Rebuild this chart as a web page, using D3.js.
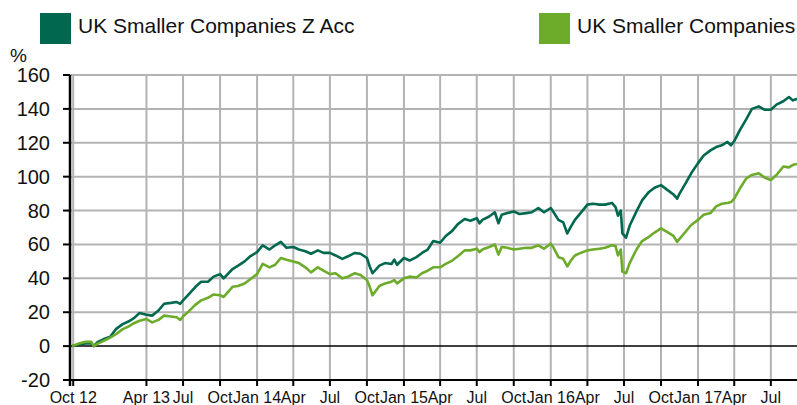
<!DOCTYPE html>
<html>
<head>
<meta charset="utf-8">
<script src="https://cdn.jsdelivr.net/npm/d3@7"></script>
<style>
  body { margin: 0; background: #fff; }
  svg { display: block; font-family: "Liberation Sans", Arial, sans-serif; }
</style>
</head>
<body>
<div id="chart"></div>
<script>
// series names
var seriesNames = ["UK Smaller Companies Z Acc", "UK Smaller Companies"];

var dates = [
  "2012-09-28","2012-10-15","2012-11-01","2012-11-15","2012-11-21","2012-12-01","2012-12-15",
  "2013-01-01","2013-01-15","2013-02-01","2013-02-15","2013-03-01","2013-03-15","2013-04-01",
  "2013-04-15","2013-05-01","2013-05-15","2013-06-01","2013-06-15","2013-06-24","2013-07-01",
  "2013-07-15","2013-08-01","2013-08-15","2013-09-01","2013-09-15","2013-10-01","2013-10-10",
  "2013-11-01","2013-11-15","2013-12-01","2013-12-15","2014-01-01","2014-01-15","2014-02-01",
  "2014-02-15","2014-03-01","2014-03-15","2014-04-01","2014-04-15","2014-05-01","2014-05-15",
  "2014-06-01","2014-06-15","2014-07-01","2014-07-15","2014-08-01","2014-08-15","2014-09-01",
  "2014-09-15","2014-10-01","2014-10-08","2014-10-15","2014-11-01","2014-11-15","2014-12-01",
  "2014-12-08","2014-12-15","2015-01-01","2015-01-15","2015-02-01","2015-02-15","2015-03-01",
  "2015-03-15","2015-04-01","2015-04-15","2015-05-01","2015-05-15","2015-06-01","2015-06-15",
  "2015-07-01","2015-07-08","2015-07-15","2015-08-01","2015-08-15","2015-08-24","2015-09-01",
  "2015-09-15","2015-10-01","2015-10-15","2015-11-01","2015-11-15","2015-12-01","2015-12-15",
  "2016-01-01","2016-01-08","2016-01-20","2016-02-01","2016-02-11","2016-02-20","2016-03-01",
  "2016-03-15","2016-04-01","2016-04-15","2016-05-01","2016-05-15","2016-06-01","2016-06-10",
  "2016-06-16","2016-06-23","2016-06-27","2016-07-06","2016-07-15","2016-08-01","2016-08-15",
  "2016-09-01","2016-09-15","2016-10-01","2016-10-15","2016-11-01","2016-11-10","2016-11-15",
  "2016-12-01","2016-12-15","2017-01-01","2017-01-15","2017-02-01","2017-02-15","2017-03-01",
  "2017-03-15","2017-03-24","2017-04-01","2017-04-15","2017-05-01","2017-05-15","2017-06-01",
  "2017-06-15","2017-07-01","2017-07-15","2017-08-01","2017-08-15","2017-08-25","2017-09-04"
];

// cumulative % growth, fund (dark green)
var fundZAcc = [
  0, 1, 1.5, 1.5, 0, 2.5, 4,
  5.5, 10, 13, 14.5, 16.5, 19.5, 18.5,
  18, 21, 25, 25.5, 26, 25, 27,
  30.5, 35, 38, 38, 41, 42.5, 40,
  45.5, 47.5, 50, 53, 55.5, 59.5, 57,
  59.5, 61.5, 58, 58.5, 57, 56, 54.5,
  56.5, 55, 55, 53.5, 51.5, 53, 55,
  54.5, 52, 47, 43, 47.5, 49, 48.5,
  51, 48, 52, 50.5, 52.5, 55, 57,
  62, 61, 65, 68, 72, 75, 74,
  75.5, 72.5, 74.5, 76.5, 79, 72.5, 77.5,
  78.5, 79.5, 78, 78.5, 79, 81.5, 79,
  81.5, 79, 74.5, 73, 66.5, 70.5, 74.5,
  78.5, 83.5, 84, 83.5, 83.5, 84.5, 82,
  77, 80, 66.5, 64, 71, 79.5, 86,
  91, 93.5, 95, 92.5, 89.5, 87, 89.5,
  96, 102, 108, 112.5, 115.5, 117.5, 118.5,
  120.5, 118.5, 121, 127.5, 134, 140, 141.5,
  139.5, 139.5, 142.5, 144.5, 147, 145, 146
];

// cumulative % growth, sector (light green)
var sector = [
  0, 1.5, 2.5, 2.5, 0, 1.5, 3,
  5, 7, 10, 11.5, 13.5, 15, 16,
  14, 15.5, 18, 17.5, 17, 15.5, 17.5,
  20.5, 24.5, 27, 28.5, 30.5, 30, 29,
  35, 35.5, 37, 39.5, 42.5, 48.5, 46.5,
  48, 52, 51, 50, 49, 46.5, 43.5,
  46.5, 44.5, 42.5, 43, 40, 41, 43,
  42, 39, 35, 30, 35.5, 37, 38,
  39, 37, 40, 41, 40.5, 43, 44.5,
  46.5, 46.5, 48.5, 50.5, 53, 56.5, 56.5,
  57.5, 55.5, 57, 58.5, 60, 54, 58.5,
  58, 57, 57.5, 58, 58, 59.5, 57.5,
  60.5, 58, 52.5, 51.5, 47, 50.5, 53.5,
  55, 56.5, 57, 57.5, 58, 59.5, 59,
  53.5, 57, 44, 43, 49, 57, 62,
  64.5, 67, 69.5, 67.5, 65, 61.5, 63,
  67.5, 71.5, 74.5, 77.5, 78.5, 82.5, 84,
  84.5, 85, 87, 93, 99, 101, 102,
  99.5, 98, 101, 106, 105.5, 107, 107.5
];

// x-axis ticks and their labels
var tickDates = [
  "2012-10-01","2013-04-01","2013-07-01","2013-10-01","2014-01-01","2014-04-01","2014-07-01",
  "2014-10-01","2015-01-01","2015-04-01","2015-07-01","2015-10-01","2016-01-01","2016-04-01",
  "2016-07-01","2016-10-01","2017-01-01","2017-04-01","2017-07-01"
];
var tickLabels = [
  "Oct 12","Apr 13","Jul","Oct","Jan 14","Apr","Jul",
  "Oct","Jan 15","Apr","Jul","Oct","Jan 16","Apr",
  "Jul","Oct","Jan 17","Apr","Jul"
];
var yTicks = [-20, 0, 20, 40, 60, 80, 100, 120, 140, 160];

var colors = ["#00684F", "#6DAB2A"];

function drawChart() {
  var W = 797, H = 405;
  var plotL = 70, plotR = 797, plotT = 75, plotB = 380;
  var parse = d3.timeParse("%Y-%m-%d");

  var x = d3.scaleTime()
      .domain([parse("2012-09-23"), parse("2017-09-04")])
      .range([plotL, plotR]);
  var y = d3.scaleLinear().domain([-20, 160]).range([plotB, plotT]);

  var svg = d3.select("#chart").append("svg")
      .attr("width", W)
      .attr("height", H);

  /* legend */
  seriesNames.forEach(function(name, i) {
    var lx = i == 0 ? 40 : 539;
    svg.append("rect")
      .attr("x", lx).attr("y", 13)
      .attr("width", 31).attr("height", 31)
      .attr("fill", colors[i]);
    svg.append("text")
      .attr("x", lx + 38).attr("y", 32.5)
      .style("font-size", "21px")
      .attr("fill", "#111")
      .text(name);
  });

  svg.append("text")
    .attr("x", 10).attr("y", 62)
    .style("font-size", "19px")
    .attr("fill", "#111")
    .text("%");

  /* grid */
  svg.selectAll(".vgrid")
    .data(tickDates)
    .enter().append("line")
    .attr("class", "vgrid")
    .attr("x1", function(d) { return x(parse(d)); })
    .attr("x2", function(d) { return x(parse(d)); })
    .attr("y1", plotT).attr("y2", plotB)
    .style("stroke", "#b3b3b3")
    .style("stroke-width", 2);

  svg.selectAll(".hgrid")
    .data(yTicks.filter(function(v) { return v > 0; }))
    .enter().append("line")
    .attr("class", "hgrid")
    .attr("x1", plotL).attr("x2", plotR)
    .attr("y1", y).attr("y2", y)
    .style("stroke", "#b3b3b3")
    .style("stroke-width", 2);

  /* zero line and bottom axis */
  [0, -20].forEach(function(v) {
    svg.append("line")
      .attr("x1", plotL).attr("x2", plotR)
      .attr("y1", y(v)).attr("y2", y(v))
      .style("stroke", "#000")
      .style("stroke-width", v == 0 ? 1.5 : 2);
  });

  /* x ticks */
  svg.selectAll(".xtick")
    .data(tickDates)
    .enter().append("line")
    .attr("class", "xtick")
    .attr("x1", function(d) { return x(parse(d)); })
    .attr("x2", function(d) { return x(parse(d)); })
    .attr("y1", plotB).attr("y2", plotB + 6)
    .style("stroke", "#000")
    .style("stroke-width", 2);

  svg.selectAll(".xlabel")
    .data(tickDates)
    .enter().append("text")
    .attr("class", "xlabel")
    .attr("x", function(d) { return x(parse(d)); })
    .attr("y", 403)
    .attr("text-anchor", "middle")
    .style("font-size", "16px")
    .attr("fill", "#111")
    .text(function(d, i) { return tickLabels[i]; });

  /* y axis */
  svg.append("line")
    .attr("x1", plotL).attr("x2", plotL)
    .attr("y1", plotT).attr("y2", plotB + 6)
    .style("stroke", "#000")
    .style("stroke-width", 2.5);

  svg.selectAll(".ytick")
    .data(yTicks)
    .enter().append("line")
    .attr("class", "ytick")
    .attr("x1", plotL - 7).attr("x2", plotL)
    .attr("y1", y).attr("y2", y)
    .style("stroke", "#000")
    .style("stroke-width", 2);

  svg.selectAll(".ylabel")
    .data(yTicks)
    .enter().append("text")
    .attr("class", "ylabel")
    .attr("x", 50)
    .attr("y", y)
    .attr("dy", "0.35em")
    .attr("text-anchor", "end")
    .style("font-size", "20px")
    .attr("fill", "#111")
    .text(function(d) { return d; });

  /* lines */
  var line = d3.line()
    .x(function(d) { return x(d.date); })
    .y(function(d) { return y(d.value); });

  [fundZAcc, sector].forEach(function(vals, i) {
    var pts = dates.map(function(d, j) { return { date: parse(d), value: vals[j] }; });
    svg.append("path")
      .datum(pts)
      .attr("d", line)
      .attr("fill", "none")
      .style("stroke", colors[i])
      .style("stroke-width", 2.6)
      .style("stroke-linejoin", "round");
  });
}

drawChart();
</script>
</body>
</html>
